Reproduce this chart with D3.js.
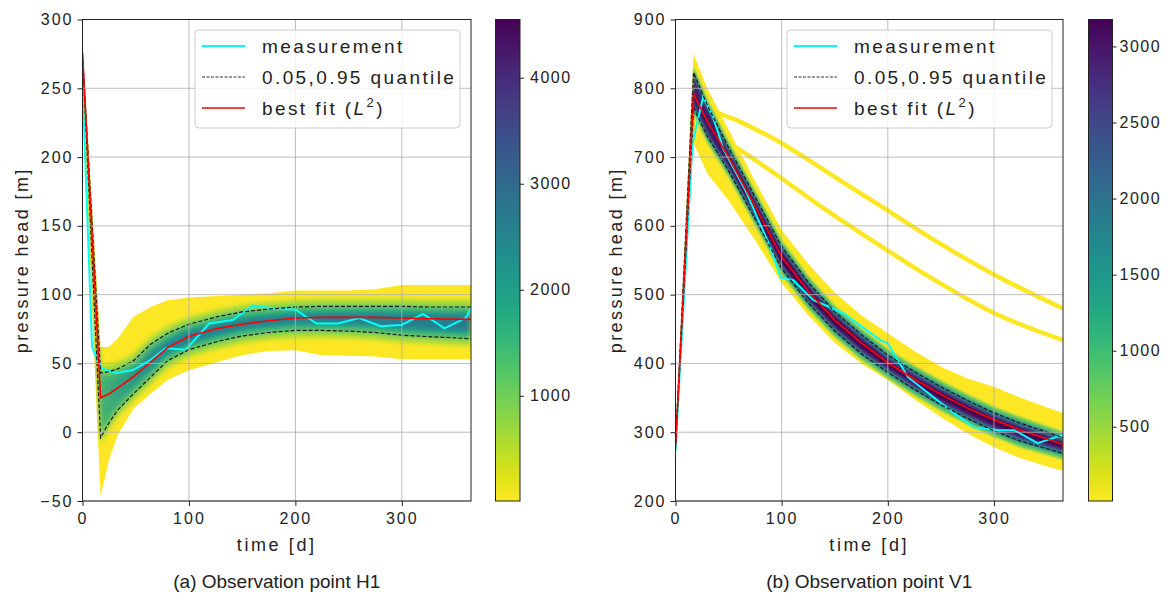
<!DOCTYPE html>
<html>
<head>
<meta charset="utf-8">
<script src="https://cdn.jsdelivr.net/npm/d3@7"></script>
<style>
body { margin: 0; background: #fff; }
text { font-family: "Liberation Sans", Arial, sans-serif; fill: #222; }
</style>
</head>
<body>
<svg id="chart" width="1171" height="600"></svg>
<script>
// ---- (a) observation point H1 ----
const daysH = [0, 17, 25, 33, 48, 64, 80, 100, 127, 150, 175, 200, 225, 250, 275, 300, 325, 365]
const fitH  = [276, 25, 28, 32, 40.5, 51, 61.5, 69.5, 75.5, 78.5, 81, 83, 83.5, 83.5, 83.5, 83, 82.5, 82]
const q95H  = [275, 43, 44, 46, 52, 64, 72, 78.5, 84, 87.5, 89.5, 91, 91.5, 91.5, 91.5, 91.5, 91, 91]
const q05H  = [273, -4, 7, 16, 28, 40, 52, 60, 66, 70, 72.5, 74, 74, 73.5, 72.5, 70.5, 69.5, 68]
const loH   = [245, -47, -20, -2, 17, 28, 38, 45, 51, 56, 59, 59.5, 56, 55.5, 55, 53, 53, 53]
const hiH   = [278, 62, 62, 68, 84, 91, 96, 98, 99, 100, 101, 103, 103, 103, 104, 107, 107, 107]
const measDaysH = [0, 9, 14, 19, 31, 47, 63, 78, 97, 119, 141, 160, 180, 200, 220, 240, 260, 280, 300, 320, 340, 360, 365]
const measH     = [252, 62, 52, 46, 43, 45, 52, 61, 60, 79, 81.5, 92, 90, 89, 79, 79, 83, 77, 78, 86, 75.5, 83, 90]
const yTicksH  = [-50, 0, 50, 100, 150, 200, 250, 300]
const cbTicksH = [1000, 2000, 3000, 4000]

// ---- (b) observation point V1 ----
const daysV = [0, 17, 30, 50, 75, 100, 125, 150, 175, 200, 225, 250, 275, 300, 325, 350, 365]
const fitV  = [280, 792, 752, 700, 628, 555, 505, 463, 430, 401, 377, 355, 335, 318, 303, 290, 282]
const q95V  = [285, 823, 775, 714, 642, 570, 518, 475, 442, 412, 388, 366, 346, 328, 313, 300, 292]
const q05V  = [275, 772, 730, 680, 610, 538, 488, 447, 414, 387, 362, 340, 320, 302, 287, 276, 269]
const loV   = [268, 720, 676, 637, 579, 517, 470, 430, 400, 376, 348, 322, 298, 278, 262, 250, 244]
const hiV   = [292, 850, 800, 740, 665, 594, 545, 503, 470, 444, 418, 395, 378, 366, 350, 336, 328]
const stripe1Days = [23, 32, 60, 98, 140, 192, 240, 299, 365]
const stripe1     = [785, 772, 752, 722, 681, 630, 583, 530, 480]
const stripe2Days = [35, 51, 98, 140, 192, 240, 299, 365]
const stripe2     = [734, 720, 671, 625, 572, 525, 474, 434]
const measDaysV = [0, 16, 26, 35, 45, 67, 89, 99, 111, 130, 158, 193, 200, 219, 238, 262, 281, 304, 319, 341, 365]
const measV     = [274, 720, 787, 760, 712, 648, 570, 525, 521, 492, 473, 434, 429, 380, 357, 328, 307, 303, 303, 284, 296]
const yTicksV  = [200, 300, 400, 500, 600, 700, 800, 900]
const cbTicksV = [500, 1000, 1500, 2000, 2500, 3000]

const xTicks = [0, 100, 200, 300]
const yellow = d3.interpolateViridis(1)

const svg = d3.select("#chart")
const defs = svg.append("defs")

// colorbar gradient, viridis reversed (low = yellow)
const cbGrad = defs.append("linearGradient").attr("id", "cbgrad")
    .attr("x1", 0).attr("y1", 0).attr("x2", 0).attr("y2", 1)
d3.range(0, 21).forEach(i => {
    cbGrad.append("stop").attr("offset", i / 20).attr("stop-color", d3.interpolateViridis(i / 20))
})

function drawPanel(p) {
    const x = d3.scaleLinear().domain([0, 365]).range([p.left, p.right])
    const y = d3.scaleLinear().domain(p.yDomain).range([p.bottom, p.top])
    const g = svg.append("g")

    defs.append("clipPath").attr("id", "clip-" + p.id)
        .append("rect")
        .attr("x", p.left).attr("y", p.top)
        .attr("width", p.right - p.left).attr("height", p.bottom - p.top)
    const plot = g.append("g").attr("clip-path", "url(#clip-" + p.id + ")")

    const rows = p.days.map((t, i) => ({t: t, lo: p.lo[i], hi: p.hi[i], q05: p.q05[i], q95: p.q95[i], fit: p.fit[i]}))

    // histogram envelope
    const envArea = d3.area().x(d => x(d.t)).y0(d => y(d.lo)).y1(d => y(d.hi))
    plot.append("path").attr("d", envArea(rows)).attr("fill", yellow)

    // outlier runs
    p.stripes.forEach(s => {
        const pts = s.days.map((t, i) => [x(t), y(s.vals[i])])
        plot.append("path").attr("d", d3.line().curve(d3.curveMonotoneX)(pts))
            .attr("fill", "none").attr("stroke", yellow).attr("stroke-width", 4.5)
    })

    // density shading inside the envelope
    defs.append("clipPath").attr("id", "env-" + p.id).append("path").attr("d", envArea(rows))
    const filt = defs.append("filter").attr("id", "blur-" + p.id)
        .attr("filterUnits", "userSpaceOnUse")
        .attr("x", p.left - 30).attr("y", p.top - 30)
        .attr("width", p.right - p.left + 60).attr("height", p.bottom - p.top + 60)
    filt.append("feGaussianBlur").attr("stdDeviation", p.blur)
    const dens = plot.append("g").attr("clip-path", "url(#env-" + p.id + ")")
        .append("g").attr("filter", "url(#blur-" + p.id + ")")

    p.layers.forEach((L, li) => {
        const gid = "lg-" + p.id + "-" + li
        const lg = defs.append("linearGradient").attr("id", gid)
            .attr("gradientUnits", "userSpaceOnUse")
            .attr("x1", x(p.ramp[0])).attr("x2", x(p.ramp[1])).attr("y1", 0).attr("y2", 0)
        lg.append("stop").attr("offset", 0).attr("stop-color", L.color).attr("stop-opacity", L.op0)
        lg.append("stop").attr("offset", 1).attr("stop-color", L.color).attr("stop-opacity", 1)
        const band = d3.area().x(d => x(d.t))
            .y0(d => { const a = y(d.q05), b = y(d.q95); return Math.max((a + b) / 2, Math.max(a, b) - L.shrink) })
            .y1(d => { const a = y(d.q05), b = y(d.q95); return Math.min((a + b) / 2, Math.min(a, b) + L.shrink) })
        dens.append("path").attr("d", band(rows)).attr("fill", "url(#" + gid + ")")
    })

    // grid
    g.selectAll(".gx").data(xTicks).enter().append("line")
        .attr("x1", d => x(d)).attr("x2", d => x(d))
        .attr("y1", p.top).attr("y2", p.bottom)
        .attr("stroke", "#b0b0b0").attr("stroke-width", 1).attr("opacity", 0.85)
    g.selectAll(".gy").data(p.yTicks).enter().append("line")
        .attr("x1", p.left).attr("x2", p.right)
        .attr("y1", d => y(d)).attr("y2", d => y(d))
        .attr("stroke", "#b0b0b0").attr("stroke-width", 1).attr("opacity", 0.85)

    // lines
    const meas = p.measDays.map((t, i) => ({t: t, v: p.meas[i]}))
    plot.append("path").datum(meas)
        .attr("d", d3.line().x(d => x(d.t)).y(d => y(d.v)))
        .attr("fill", "none").attr("stroke", "#00ffff").attr("stroke-width", 2)
    ;["q05", "q95"].forEach(k => {
        plot.append("path").datum(rows)
            .attr("d", d3.line().x(d => x(d.t)).y(d => y(d[k])))
            .attr("fill", "none").attr("stroke", "#1a1a1a").attr("stroke-width", 1.2)
            .attr("stroke-dasharray", "4,2")
    })
    plot.append("path").datum(rows)
        .attr("d", d3.line().x(d => x(d.t)).y(d => y(d.fit)))
        .attr("fill", "none").attr("stroke", "#ff0000").attr("stroke-width", 1.6)

    // axes
    const xAxis = d3.axisBottom(x).tickValues(xTicks).tickSize(5).tickPadding(7).tickFormat(d3.format("d"))
    const yAxis = d3.axisLeft(y).tickValues(p.yTicks).tickSize(5).tickPadding(4)
    const gx = g.append("g").attr("transform", "translate(0," + p.bottom + ")").call(xAxis)
    const gy = g.append("g").attr("transform", "translate(" + p.left + ",0)").call(yAxis)
    ;[gx, gy].forEach(a => {
        a.select(".domain").remove()
        a.selectAll("line").attr("stroke", "#222")
        a.selectAll("text").style("font-size", "16px").style("letter-spacing", "2px")
            .style("font-family", "'Liberation Sans', Arial, sans-serif").attr("fill", "#222")
    })

    g.append("rect")
        .attr("x", p.left).attr("y", p.top)
        .attr("width", p.right - p.left).attr("height", p.bottom - p.top)
        .attr("fill", "none").attr("stroke", "#222").attr("stroke-width", 1)

    // colorbar
    const cb = d3.scaleLinear().domain(p.cbDomain).range([p.bottom, p.top])
    g.append("rect")
        .attr("x", p.cbX).attr("y", p.top).attr("width", p.cbW).attr("height", p.bottom - p.top)
        .attr("fill", "url(#cbgrad)").attr("stroke", "#222").attr("stroke-width", 1)
    const gc = g.append("g").attr("transform", "translate(" + (p.cbX + p.cbW) + ",0)")
        .call(d3.axisRight(cb).tickValues(p.cbTicks).tickSize(4).tickPadding(p.cbPad).tickFormat(d3.format("d")))
    gc.select(".domain").remove()
    gc.selectAll("line").attr("stroke", "#222")
    gc.selectAll("text").style("font-size", "16px").style("letter-spacing", "1.5px")
        .style("font-family", "'Liberation Sans', Arial, sans-serif").attr("fill", "#222")

    // axis labels and caption
    const cx = (p.left + p.right) / 2
    g.append("text").attr("x", cx).attr("y", 551).attr("text-anchor", "middle")
        .style("font-size", "18px").style("letter-spacing", "2.6px").text("time [d]")
    g.append("text").attr("transform", "translate(" + p.ylabX + "," + ((p.top + p.bottom) / 2) + ") rotate(-90)")
        .attr("text-anchor", "middle")
        .style("font-size", "18px").style("letter-spacing", "2.4px").text("pressure head [m]")
    g.append("text").attr("x", cx).attr("y", 588).attr("text-anchor", "middle")
        .style("font-size", "19px").text(p.caption)

    // legend
    const lx = p.legX, ly = 30
    const leg = g.append("g")
    leg.append("rect").attr("x", lx).attr("y", ly).attr("width", 265).attr("height", 98).attr("rx", 4)
        .attr("fill", "#fff").attr("fill-opacity", 0.8).attr("stroke", "#cccccc")
    const items = [
        {dy: 16, stroke: "#00ffff", w: 2, dash: null},
        {dy: 47, stroke: "#333", w: 1, dash: "3,1.5"},
        {dy: 78, stroke: "#ff0000", w: 1.5, dash: null}
    ]
    items.forEach(it => {
        leg.append("line").attr("x1", lx + 7).attr("x2", lx + 50)
            .attr("y1", ly + it.dy).attr("y2", ly + it.dy)
            .attr("stroke", it.stroke).attr("stroke-width", it.w)
            .attr("stroke-dasharray", it.dash)
    })
    const tx = lx + 67
    const legText = (dy) => leg.append("text").attr("x", tx).attr("y", ly + dy + 7)
        .style("font-size", "19px").style("letter-spacing", "2.4px")
    legText(16).text("measurement")
    legText(47).text("0.05,0.95 quantile")
    const bf = legText(78)
    bf.append("tspan").text("best fit (")
    bf.append("tspan").style("font-style", "italic").text("L")
    bf.append("tspan").attr("dy", -8).style("font-size", "13px").text("2")
    bf.append("tspan").attr("dy", 8).text(")")
}

drawPanel({
    id: "h1", left: 82.5, right: 471, top: 19.5, bottom: 501,
    yDomain: [-50, 300], yTicks: yTicksH,
    days: daysH, fit: fitH, q05: q05H, q95: q95H, lo: loH, hi: hiH,
    measDays: measDaysH, meas: measH, stripes: [],
    blur: 2.5, ramp: [20, 95],
    layers: [
        {shrink: -7, color: d3.interpolateViridis(0.86), op0: 0.9},
        {shrink: -1, color: d3.interpolateViridis(0.7), op0: 0.7},
        {shrink: 4, color: d3.interpolateViridis(0.55), op0: 0.4},
        {shrink: 8, color: d3.interpolateViridis(0.42), op0: 0.1}
    ],
    cbX: 495.5, cbW: 24.5, cbDomain: [8, 4549], cbTicks: cbTicksH, cbPad: 6,
    ylabX: 28, legX: 195,
    caption: "(a) Observation point H1"
})

drawPanel({
    id: "v1", left: 675.5, right: 1063, top: 19.5, bottom: 501,
    yDomain: [200, 900], yTicks: yTicksV,
    days: daysV, fit: fitV, q05: q05V, q95: q95V, lo: loV, hi: hiV,
    measDays: measDaysV, meas: measV,
    stripes: [{days: stripe1Days, vals: stripe1}, {days: stripe2Days, vals: stripe2}],
    blur: 1.2, ramp: [20, 90],
    layers: [
        {shrink: -6, color: d3.interpolateViridis(0.75), op0: 1},
        {shrink: -2, color: d3.interpolateViridis(0.45), op0: 1},
        {shrink: 2, color: d3.interpolateViridis(0.15), op0: 0.8},
        {shrink: 5, color: d3.interpolateViridis(0.0), op0: 0.5}
    ],
    cbX: 1088.5, cbW: 24, cbDomain: [12, 3177], cbTicks: cbTicksV, cbPad: 3,
    ylabX: 622, legX: 787,
    caption: "(b) Observation point V1"
})
</script>
</body>
</html>
